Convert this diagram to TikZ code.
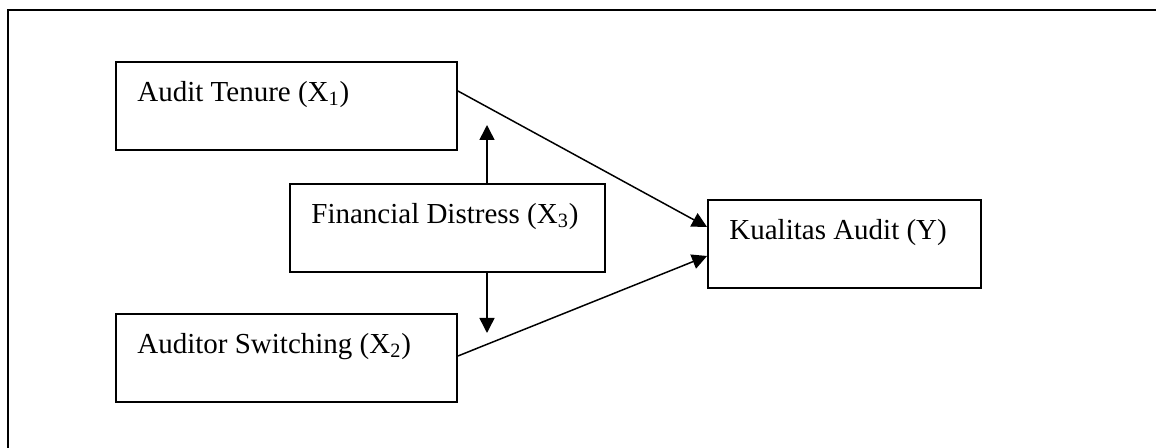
\documentclass[tikz,border=0pt]{standalone}
\usepackage{fontspec}
\setmainfont{Liberation Serif}
\usetikzlibrary{arrows.meta}
\begin{document}
\begin{tikzpicture}[x=0.02cm,y=-0.02cm,font=\fontsize{16.5}{20}\selectfont,
  var/.style={draw,line width=1.1pt,minimum height=1.76cm,inner sep=0pt},
  tag/.style={anchor=base west,xshift=0.44cm,yshift=-0.8cm,inner sep=0pt},
  flow/.style={line width=0.85pt,-{Triangle[length=0.3cm,width=0.3cm]}}]
  \useasboundingbox (0,0) rectangle (1156,448);
  \draw[line width=1.1pt] (8,448)--(8,10)--(1156,10);
  \node[var,minimum width=6.82cm,label={[tag]north west:Audit Tenure (X\textsubscript{1})}] (x1) at (286.5,106) {};
  \node[var,minimum width=6.3cm,label={[tag]north west:Financial Distress (X\textsubscript{3})}] (x3) at (447.5,228) {};
  \node[var,minimum width=6.82cm,label={[tag]north west:Auditor Switching (X\textsubscript{2})}] (x2) at (286.5,358) {};
  \node[var,minimum width=5.46cm,label={[tag]north west:Kualitas Audit (Y)}] (y) at (844.5,244) {};
  \coordinate (up) at (487,125);
  \coordinate (down) at (487,333);
  \draw[flow] ([yshift=.3cm]x1.east)--([yshift=.34cm]y.west);
  \draw[flow] ([yshift=.04cm]x2.east)--([yshift=-.24cm]y.west);
  \draw[flow] (x3.north -| up)--(up);
  \draw[flow] (x3.south -| down)--(down);
\end{tikzpicture}
\end{document}
